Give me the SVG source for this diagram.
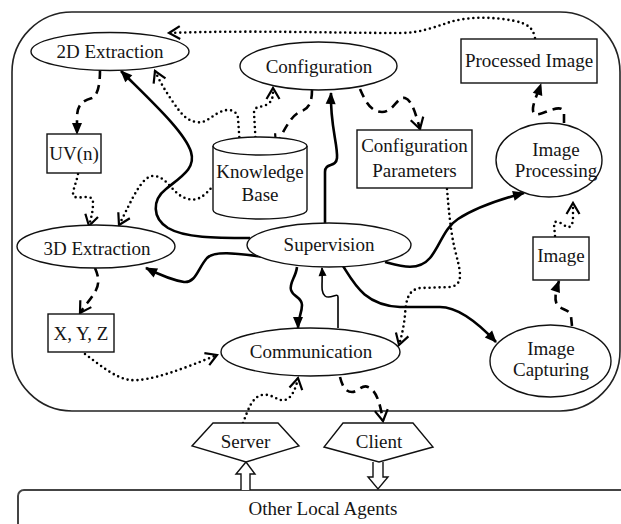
<svg xmlns="http://www.w3.org/2000/svg" width="621" height="524" viewBox="0 0 621 524">
  <style>
    .txt { font-family: "Liberation Serif", "Times New Roman", serif; font-size: 19px; fill: #151515; text-anchor: middle; }
    .shape { fill: #fff; stroke: #111; stroke-width: 1.4; }
    .frame { fill: none; stroke: #222; stroke-width: 1.6; }
    .solid { fill: none; stroke: #000; stroke-width: 2.6; stroke-linecap: butt; }
    .thin { fill: none; stroke: #000; stroke-width: 1.6; }
    .dash { fill: none; stroke: #000; stroke-width: 2.6; stroke-dasharray: 9 6; }
    .dot { fill: none; stroke: #000; stroke-width: 2.6; stroke-linecap: round; stroke-dasharray: 0 5; }
  </style>
  <defs>
    <marker id="tri" markerUnits="userSpaceOnUse" markerWidth="20" markerHeight="20" refX="0" refY="0" orient="auto" overflow="visible">
      <path d="M1,0 L-11,-5 L-11,5 Z" fill="#000"/>
    </marker>
    <marker id="tri-sm" markerUnits="userSpaceOnUse" markerWidth="16" markerHeight="16" refX="0" refY="0" orient="auto" overflow="visible">
      <path d="M1,0 L-8,-4 L-8,4 Z" fill="#000"/>
    </marker>
    <marker id="vee" markerUnits="userSpaceOnUse" markerWidth="20" markerHeight="20" refX="0" refY="0" orient="auto" overflow="visible">
      <path d="M-11,-6.5 L0,0 L-11,6.5" fill="none" stroke="#000" stroke-width="2.2"/>
    </marker>
  </defs>

  <rect width="621" height="524" fill="#fff"/>

  <!-- agent boundary and the external agents band -->
  <g id="agent-frame">
    <path class="frame" d="M12,72 A60,60 0 0 1 72,12 L560,12 A60,60 0 0 1 620,72 L620,351 A60,60 0 0 1 560,411 L72,411 A60,60 0 0 1 12,351 Z"/>
  </g>
  <g id="other-local-agents">
    <rect x="18" y="490" width="640" height="80" rx="6" fill="#fff" stroke="#444" stroke-width="2"/>
    <text class="txt" x="323" y="515">Other Local Agents</text>
  </g>

  <!-- connectors -->
  <g id="connectors">
    <!-- solid: supervision links -->
    <path class="solid" marker-end="url(#tri)" d="M250,238 C215,238 185,238 168,228 C152,218 152,200 166,189 C182,176 196,168 191,152 C185,132 150,100 121,71"/>
    <path class="solid" marker-end="url(#tri)" d="M265,257 C240,254 215,250 207,258 C198,268 196,283 184,282 C172,280 158,274 146,268"/>
    <path class="solid" marker-end="url(#tri)" d="M325,223 L325,172 C325,162 336,168 337,158 C338,145 330,125 331,93"/>
    <path class="solid" marker-end="url(#tri)" d="M385,262 C400,266 418,272 430,258 C440,246 444,228 458,219 C478,206 505,198 524,193"/>
    <path class="solid" marker-end="url(#tri)" d="M343,266 C355,285 365,305 400,307 L440,307 C460,307 480,325 496,342"/>
    <path class="solid" marker-end="url(#tri)" d="M297,267 C296,277 289,283 291,290 C293,297 302,297 302,305 C302,313 298,318 298,328"/>
    <path class="thin" marker-end="url(#tri-sm)" d="M338,328 L338,297 C338,292 330,300 325,296 C320,292 323,282 322,268"/>

    <!-- dashed: data flows -->
    <path class="dash" marker-end="url(#tri)" d="M100,70 C100,80 99,95 92,98 C82,101 77,105 77,118 L77,134"/>
    <path class="dash" marker-end="url(#vee)" d="M95,268 C98,275 100,282 96,290 C92,298 85,305 80,313"/>
    <path class="dash" marker-end="url(#vee)" d="M312,90 C312,100 310,108 302,111 C292,114 285,128 276,146"/>
    <path class="dash" marker-end="url(#vee)" d="M360,89 C365,100 370,112 382,112 C394,112 397,96 405,98 C412,100 416,115 420,129"/>
    <path class="dash" marker-end="url(#tri)" d="M564,123 L564,114 C564,106 556,108 548,111 C540,114 532,118 533,108 C534,100 538,93 541,84"/>
    <path class="dash" marker-end="url(#tri)" d="M572,326 L571,316 C570,310 563,310 558,306 C554,302 555,292 559,281"/>
    <path class="dash" marker-end="url(#vee)" d="M340,377 C342,385 345,392 352,392 C358,392 362,384 368,387 C376,390 380,402 383,421"/>

    <!-- dotted: knowledge and messages -->
    <path class="dot" marker-end="url(#vee)" d="M78,174 C76,185 70,195 75,197 C82,199 93,193 93,203 C93,212 91,218 89,226"/>
    <path class="dot" marker-end="url(#vee)" d="M214,185 C205,195 198,203 185,198 C172,193 168,178 155,176 C142,174 132,200 119,225"/>
    <path class="dot" marker-end="url(#vee)" d="M240,147 L238,118 C237,110 228,108 220,112 C210,117 205,124 196,122 C185,120 180,112 173,102 C166,92 160,82 155,71"/>
    <path class="dot" marker-end="url(#vee)" d="M256,147 L254,113 C254,105 262,108 268,104 C273,100 273,96 273,88"/>
    <path class="dot" marker-end="url(#vee)" d="M447,189 C448,200 450,230 455,250 C460,270 465,285 450,287 L420,288 C408,290 406,300 405,315 C404,325 402,335 399,345"/>
    <path class="dot" marker-end="url(#vee)" d="M85,354 C100,365 115,378 130,380 C150,382 185,368 217,355"/>
    <path class="dot" marker-end="url(#vee)" d="M243,423 C248,410 252,397 262,395 C272,393 278,402 285,400 C292,398 296,388 298,378"/>
    <path class="dot" marker-end="url(#vee)" d="M535,38 C533,28 528,24 515,21 C495,17 470,16 450,22 C435,27 420,33 400,33 C330,33 250,30 169,33"/>
    <path class="dot" marker-end="url(#vee)" d="M555,236 L554,224 C554,220 560,222 564,225 C569,229 572,227 573,220 L573,203"/>

    <!-- hollow arrows to and from other agents -->
    <path class="shape" d="M241,490 L241,474 L236,474 L246,462 L255,474 L250,474 L250,490"/>
    <path class="shape" d="M373,462 L373,477 L368,477 L378,489 L388,477 L383,477 L383,462"/>
  </g>

  <!-- nodes -->
  <g id="extraction-2d">
    <ellipse class="shape" cx="110" cy="51.5" rx="79" ry="19"/>
    <text class="txt" x="110" y="58">2D Extraction</text>
  </g>
  <g id="uv-n">
    <rect class="shape" x="47" y="134" width="54" height="39"/>
    <text class="txt" x="74" y="160">UV(n)</text>
  </g>
  <g id="configuration">
    <ellipse class="shape" cx="318.5" cy="66" rx="78.5" ry="24"/>
    <text class="txt" x="319" y="72.5">Configuration</text>
  </g>
  <g id="knowledge-base">
    <path class="shape" d="M213,146 L213,210 A47,9 0 0 0 307,210 L307,146"/>
    <ellipse class="shape" cx="260" cy="146" rx="47" ry="9"/>
    <text class="txt" x="260" y="178">Knowledge</text>
    <text class="txt" x="260" y="201">Base</text>
  </g>
  <g id="configuration-parameters">
    <rect class="shape" x="357" y="130" width="115" height="58"/>
    <text class="txt" x="414.5" y="152">Configuration</text>
    <text class="txt" x="414.5" y="177">Parameters</text>
  </g>
  <g id="processed-image">
    <rect class="shape" x="461" y="39" width="136" height="44"/>
    <text class="txt" x="529" y="67">Processed Image</text>
  </g>
  <g id="image-processing">
    <ellipse class="shape" cx="549" cy="160" rx="53" ry="37"/>
    <text class="txt" x="556" y="155.5">Image</text>
    <text class="txt" x="556" y="176.5">Processing</text>
  </g>
  <g id="extraction-3d">
    <ellipse class="shape" cx="96" cy="246.5" rx="79" ry="21.5"/>
    <text class="txt" x="97" y="255">3D Extraction</text>
  </g>
  <g id="supervision">
    <ellipse class="shape" cx="329" cy="245" rx="82" ry="22"/>
    <text class="txt" x="329" y="250.5">Supervision</text>
  </g>
  <g id="image">
    <rect class="shape" x="533" y="237" width="56" height="43"/>
    <text class="txt" x="561" y="262">Image</text>
  </g>
  <g id="xyz">
    <rect class="shape" x="48" y="314" width="66" height="38"/>
    <text class="txt" x="81" y="340">X, Y, Z</text>
  </g>
  <g id="communication">
    <ellipse class="shape" cx="310.5" cy="352" rx="89.5" ry="24"/>
    <text class="txt" x="311" y="357.5">Communication</text>
  </g>
  <g id="image-capturing">
    <ellipse class="shape" cx="550.5" cy="361" rx="60.5" ry="36"/>
    <text class="txt" x="551" y="355">Image</text>
    <text class="txt" x="551" y="376">Capturing</text>
  </g>
  <g id="server">
    <path class="shape" d="M213,423 L278,423 L299,446 L246,462 L192,446 Z"/>
    <text class="txt" x="245.5" y="448">Server</text>
  </g>
  <g id="client">
    <path class="shape" d="M343,423 L413,423 L433,447 L379,462 L324,447 Z"/>
    <text class="txt" x="379" y="448">Client</text>
  </g>
</svg>
